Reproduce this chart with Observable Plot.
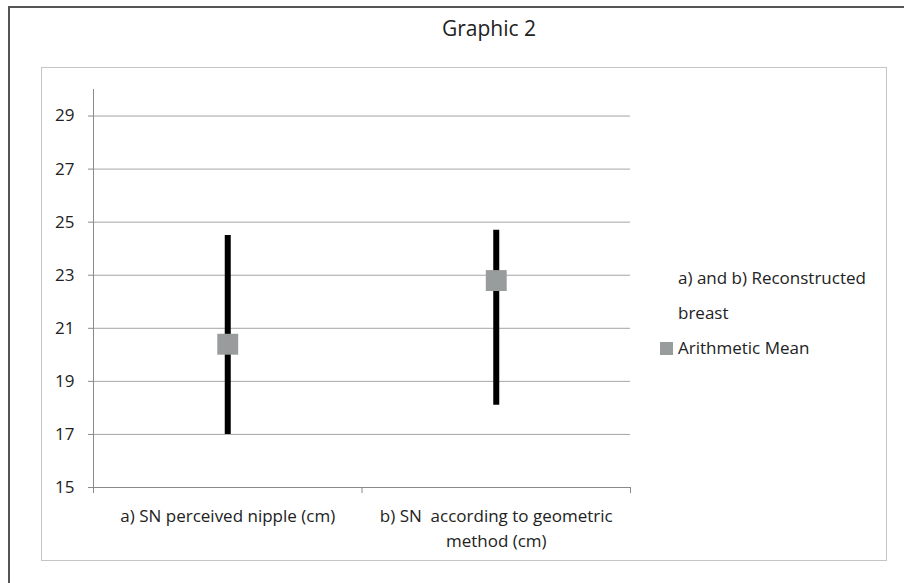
<!DOCTYPE html>
<html>
<head>
<meta charset="utf-8">
<script src="https://cdn.jsdelivr.net/npm/d3@7"></script>
<script src="https://cdn.jsdelivr.net/npm/@observablehq/plot@0.6"></script>
<style>
  html, body { margin: 0; padding: 0; background: #fff; overflow: hidden; }
  #wrap { position: relative; width: 904px; height: 583px; overflow: hidden; font-family: "Open Sans", Lato, sans-serif; color: #222; }
  #bl { position: absolute; left: 8px; top: 6px; width: 2px; height: 577px; background: #555; }
  #bt { position: absolute; left: 8px; top: 6px; width: 896px; height: 2px; background: #555; }
  #inner { position: absolute; left: 41px; top: 67px; width: 844px; height: 492px; border: 1px solid #c4c4c4; }
  #title { position: absolute; left: 339px; width: 300px; top: 14px; text-align: center; font-size: 21px; }
  #chart { position: absolute; left: 0; top: 0; }
  #legend { position: absolute; left: 660px; top: 260px; font-size: 17px; line-height: 35px; white-space: nowrap; }
  #legend .sw { display: inline-block; width: 13px; height: 13px; background: #999c9c; margin-right: 5px; vertical-align: -1px; }
  #legend .pad { padding-left: 18px; }
</style>
</head>
<body>
<div id="wrap">
  <div id="bl"></div>
  <div id="bt"></div>
  <div id="inner"></div>
  <div id="title">Graphic 2</div>
  <div id="chart"></div>
  <div id="legend"></div>
</div>
<script>
const categories = ["a) SN perceived nipple (cm)", "b) SN\u00a0 according to geometric\nmethod (cm)"];
const minValues = [17.0, 18.1];
const maxValues = [24.5, 24.7];
const meanValues = [20.4, 22.8];
const yTicks = [15, 17, 19, 21, 23, 25, 27, 29];
const legendTitleLines = ["a) and b) Reconstructed", "breast"];
const legendSeries = "Arithmetic Mean";

const data = categories.map((c, i) => ({pos: i + 0.5, min: minValues[i], max: maxValues[i], mean: meanValues[i]}));

const chart = Plot.plot({
  width: 904,
  height: 583,
  marginLeft: 93,
  marginRight: 274,
  marginTop: 89,
  marginBottom: 96,
  style: {fontFamily: "'Open Sans', Lato, sans-serif", fontSize: "17px", color: "#222", background: "transparent", overflow: "visible"},
  x: {domain: [0, 2]},
  y: {domain: [15, 30]},
  marks: [
    Plot.gridY(yTicks.slice(1), {stroke: "#a6a6a6", strokeOpacity: 1}),
    Plot.ruleY([15], {stroke: "#8a8a8a"}),
    Plot.ruleX([0], {stroke: "#8a8a8a"}),
    Plot.axisY({ticks: yTicks, tickSize: 5, tickPadding: 14, stroke: "#8a8a8a", label: null, fill: "#222", fontSize: 17}),
    Plot.axisX({ticks: [0, 1, 2], tickSize: 6, tickFormat: () => "", stroke: "#8a8a8a", label: null}),
    Plot.axisX({ticks: data.map(d => d.pos), tickSize: 0, tickPadding: 17, lineHeight: 1.47, fontSize: 17, tickFormat: (d) => categories[Math.floor(d)], label: null, fill: "#222"}),
    Plot.ruleX(data, {x: "pos", y1: "min", y2: "max", stroke: "black", strokeWidth: 6}),
    Plot.dot(data, {x: "pos", y: "mean", symbol: "square", r: 11.8, fill: "#999c9c", stroke: "none"})
  ]
});
document.getElementById("chart").appendChild(chart);

const legend = document.getElementById("legend");
legend.innerHTML = legendTitleLines.map(t => `<div class="pad">${t}</div>`).join("") +
  `<div><span class="sw"></span>${legendSeries}</div>`;
</script>
</body>
</html>
